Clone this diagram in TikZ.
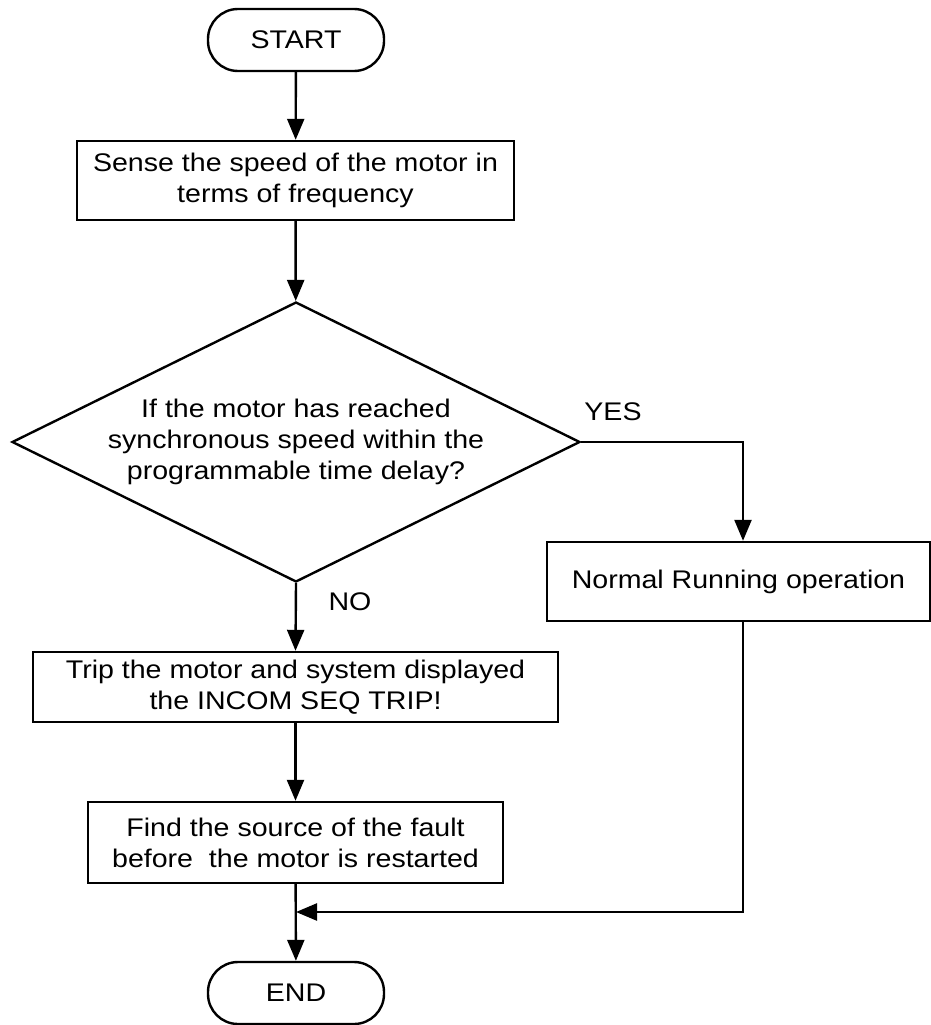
\documentclass[tikz,border=0pt]{standalone}
\usepackage{fontspec}
\setmainfont{Liberation Sans}[FakeStretch=1.12]
\usetikzlibrary{shapes.geometric,arrows.meta}
\begin{document}
\begin{tikzpicture}[x=1pt,y=-1pt,
  base/.style={draw,line width=2.4pt,inner sep=0pt,align=center,font=\fontsize{25.5}{31}\selectfont},
  terminal/.style={base,rounded corners=30pt,minimum width=176pt,minimum height=62pt},
  process/.style={base,rectangle},
  decision/.style={base,diamond,shape aspect=2.03,minimum width=568pt,minimum height=280pt},
  tag/.style={font=\fontsize{25.5}{31}\selectfont,inner sep=0pt},
  flow/.style={line width=2.4pt,-{Triangle[length=21pt,width=17pt]}},
  link/.style={line width=2.4pt}]
\useasboundingbox (0,0) rectangle (931,1025);

% nodes of the flow chart
\node[terminal] (start) at (296,40) {START};
\node[process,minimum width=437pt,minimum height=79pt] (sense) at (295.5,180.5)
  {Sense the speed of the motor in\\terms of frequency};
\node[decision] (check) at (296,442)
  {If the motor has reached\\synchronous speed within the\\programmable time delay?};
\node[process,minimum width=383pt,minimum height=79pt] (normal) at (738.5,581.5)
  {Normal Running operation};
\node[process,minimum width=525pt,minimum height=70pt] (trip) at (295.5,687)
  {Trip the motor and system displayed\\the INCOM SEQ TRIP!};
\node[process,minimum width=415pt,minimum height=81pt] (find) at (295.5,842.5)
  {Find the source of the fault\\before~~the motor is restarted};
\node[terminal] (end) at (296,993) {END};

% branch labels
\node[tag] (yes) at (613,412) {YES};
\node[tag] (no) at (350,602) {NO};

% routing points
\coordinate (yesturn) at (743,442);
\coordinate (backturn) at (743,912);
\coordinate (join) at (296,912);

% connectors
\draw[flow] (start) -- (sense);
\draw[flow] (sense) -- (check);
\draw[flow] (check.east) -- (yesturn) -- (yesturn |- normal.north);
\draw[flow] (check.south) -- (trip.north);
\draw[flow] (trip) -- (find);
\draw[flow] (find) -- (end);
\draw[flow] (yesturn |- normal.south) -- (backturn) -- (join);
\end{tikzpicture}
\end{document}
